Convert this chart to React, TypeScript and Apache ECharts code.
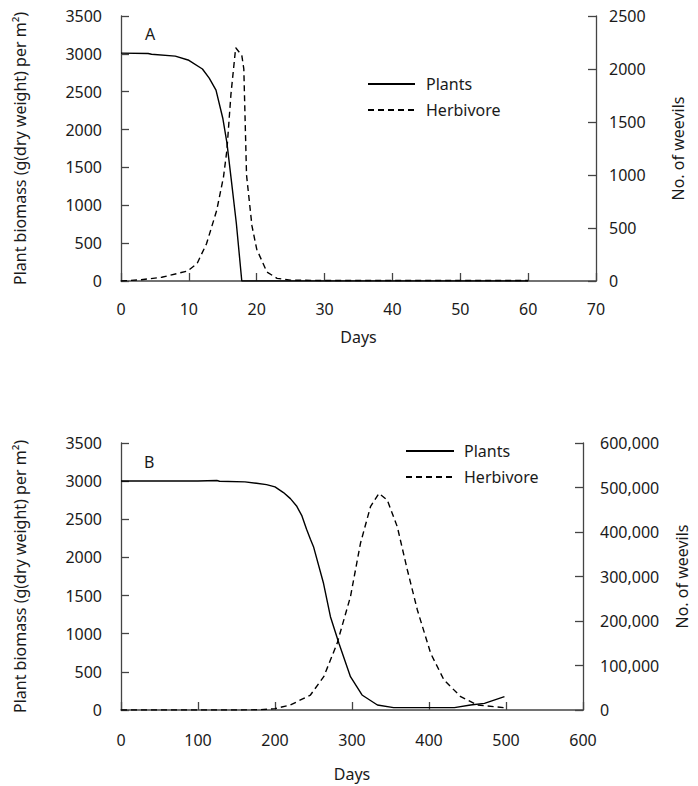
import React, { useEffect, useRef } from "react";
import * as echarts from "echarts";

// ---- Panel A data ----
const plantsADays = [0, 4, 4.5, 8, 10, 12, 13, 14, 15, 15.6, 16.3, 17, 17.8, 20, 30, 40, 50, 60];
const plantsAValues = [3010, 3005, 2995, 2970, 2915, 2800, 2680, 2520, 2150, 1830, 1300, 760, 0, 0, 0, 0, 0, 0];
const herbADays = [0, 3, 6, 9.8, 11.2, 12.6, 14.1, 15.1, 15.6, 16.2, 16.9, 17.8, 18.1, 18.5, 19.3, 20, 21.5, 23, 25, 30, 40, 50, 60];
const herbAValues = [0, 12, 35, 94, 163, 351, 665, 980, 1230, 1760, 2200, 2130, 2000, 1000, 520, 300, 85, 25, 8, 5, 5, 5, 5];

// ---- Panel B data ----
const plantsBDays = [0, 100, 124.5, 128, 161, 176, 189, 200, 211, 220, 228, 235, 241, 246, 250, 263, 272, 283, 298, 313, 333, 354, 433, 454, 472, 498];
const plantsBValues = [3002, 3002, 3008, 2998, 2990, 2972, 2954, 2924, 2850, 2771, 2675, 2544, 2369, 2238, 2141, 1661, 1223, 874, 437, 197, 66, 31, 31, 66, 87, 175];
const herbBDays = [0, 150, 180, 200, 220, 246, 263.3, 280.7, 298, 311, 324, 335, 345.8, 358.8, 371.9, 384.9, 402.2, 419.5, 441.2, 463, 497.6];
const herbBValues = [0, 0, 500, 3000, 11200, 33700, 74900, 149800, 254600, 374600, 456800, 486900, 471900, 411900, 314600, 224700, 127300, 67400, 29900, 11200, 5200];

// ---- Axis settings ----
const xTicksA = { min: 0, max: 70, interval: 10 };
const xTicksB = { min: 0, max: 600, interval: 100 };
const yLeft = { min: 0, max: 3500, interval: 500 };
const yRightA = { min: 0, max: 2500, interval: 500 };
const yRightB = { min: 0, max: 600000, interval: 100000 };

const seriesNames = ["Plants", "Herbivore"];
const leftName = "Plant biomass (g(dry weight) per m²)";
const rightName = "No. of weevils";
const xName = "Days";

const pair = (xs: number[], ys: number[]) => xs.map((x, i) => [x, ys[i]]);

const FONT = "Noto Sans";
const TXT = "#1a1a1a";
const AXC = "#444";

const fmtPlain = (v: number) => String(v);
const fmtThousands = (v: number) => v.toLocaleString("en-US");

function xAxis(gridIndex: number, t: any, nameGap: number, margin: number) {
  return {
    type: "value",
    gridIndex,
    min: t.min,
    max: t.max,
    interval: t.interval,
    name: xName,
    nameLocation: "middle",
    nameGap,
    nameTextStyle: { fontFamily: FONT, fontSize: 16, color: TXT },
    axisLine: { show: true, lineStyle: { color: AXC, width: 1.5 } },
    axisTick: { show: true, inside: true, length: 8, lineStyle: { color: AXC, width: 1.3 } },
    axisLabel: { fontFamily: FONT, fontSize: 16, color: TXT, margin, formatter: fmtPlain },
    splitLine: { show: false },
  };
}

function yAxis(gridIndex: number, t: any, position: string, name: string, nameGap: number, margin: number, fmt: (v: number) => string) {
  return {
    type: "value",
    gridIndex,
    position,
    min: t.min,
    max: t.max,
    interval: t.interval,
    name,
    nameLocation: "middle",
    nameGap,
    nameRotate: 90,
    nameTextStyle: { fontFamily: FONT, fontSize: 16, color: TXT },
    axisLine: { show: true, onZero: false, lineStyle: { color: AXC, width: 1.3 } },
    axisTick: { show: true, inside: true, length: 8, lineStyle: { color: AXC, width: 1.3 } },
    axisLabel: { fontFamily: FONT, fontSize: 16, color: TXT, margin, formatter: fmt },
    splitLine: { show: false },
  };
}

function lineSeries(name: string, xi: number, yi: number, data: number[][], dashed: boolean) {
  return {
    type: "line",
    name,
    xAxisIndex: xi,
    yAxisIndex: yi,
    data,
    symbol: "none",
    showSymbol: false,
    smooth: false,
    lineStyle: { color: "#000", width: 1.4, type: dashed ? [6, 4] : "solid" },
    itemStyle: { color: "#000" },
  };
}

export default function App() {
  const ref = useRef<HTMLDivElement>(null);
  useEffect(() => {
    document.body.style.margin = "0";
    const chart = echarts.init(ref.current!, null, { renderer: "svg" });
    const legendCommon = {
      orient: "vertical",
      padding: 0,
      itemHeight: 14,
      itemGap: 10,
      itemStyle: { opacity: 0 },
      data: seriesNames,
      selectedMode: false,
    };
    chart.setOption({
      animation: false,
      backgroundColor: "#fff",
      grid: [
        { left: 121, right: 102, top: 16, height: 265 },
        { left: 121, right: 115, top: 443, height: 267 },
      ],
      xAxis: [xAxis(0, xTicksA, 48, 20), xAxis(1, xTicksB, 56, 22)],
      yAxis: [
        yAxis(0, yLeft, "left", leftName, 93, 19, fmtPlain),
        yAxis(0, yRightA, "right", rightName, 74, 13, fmtPlain),
        yAxis(1, yLeft, "left", leftName, 93, 19, fmtPlain),
        yAxis(1, yRightB, "right", rightName, 91, 17, fmtThousands),
      ],
      legend: [
        {
          ...legendCommon,
          left: 367,
          top: 76,
          itemWidth: 47,
          textStyle: { fontFamily: FONT, fontSize: 16, color: TXT, padding: [0, 0, 0, 6] },
        },
        {
          ...legendCommon,
          left: 405,
          top: 443,
          itemWidth: 48,
          textStyle: { fontFamily: FONT, fontSize: 16, color: TXT, padding: [0, 0, 0, 5] },
        },
      ],
      graphic: [
        { type: "text", left: 145, top: 26, style: { text: "A", font: `16px "${FONT}"`, fill: TXT } },
        { type: "text", left: 144, top: 454, style: { text: "B", font: `16px "${FONT}"`, fill: TXT } },
      ],
      series: [
        lineSeries(seriesNames[0], 0, 0, pair(plantsADays, plantsAValues), false),
        lineSeries(seriesNames[1], 0, 1, pair(herbADays, herbAValues), true),
        lineSeries(seriesNames[0], 1, 2, pair(plantsBDays, plantsBValues), false),
        lineSeries(seriesNames[1], 1, 3, pair(herbBDays, herbBValues), true),
      ],
    });
    return () => chart.dispose();
  }, []);
  return <div ref={ref} style={{ position: "fixed", left: 0, top: 0, width: 698, height: 786 }} />;
}
